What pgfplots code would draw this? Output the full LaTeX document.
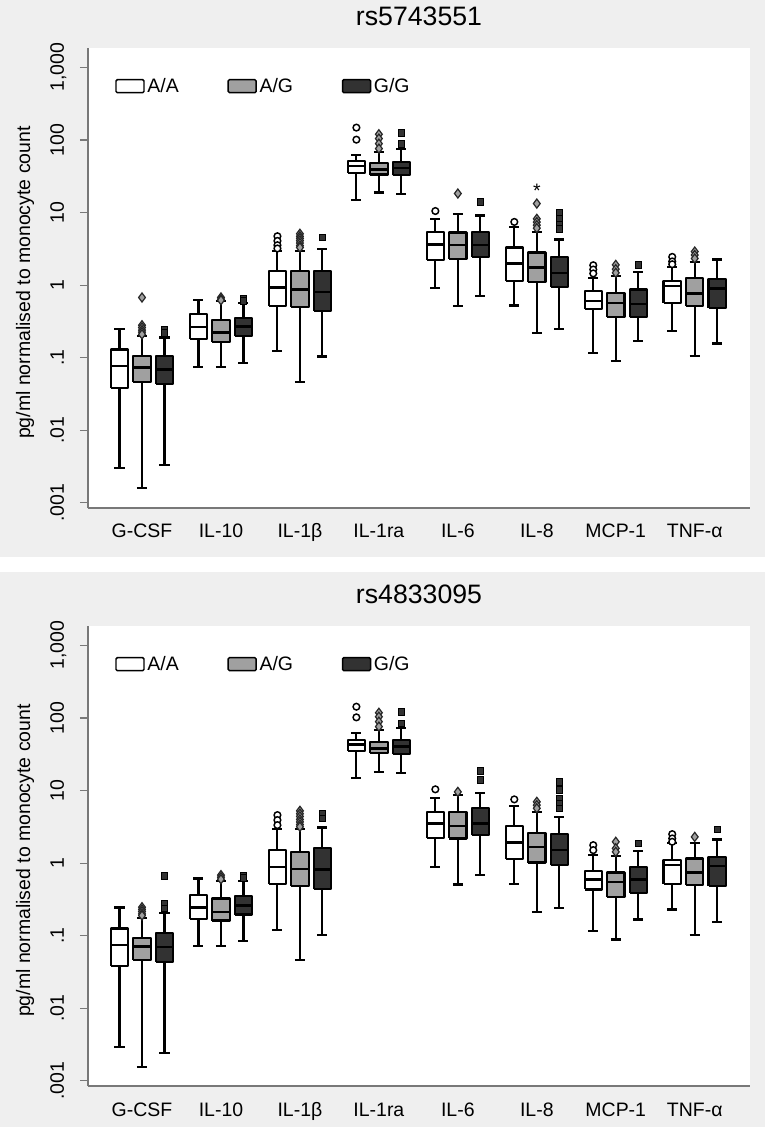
\documentclass[border=0pt]{standalone}
\usepackage{fontspec}
\setmainfont{Liberation Sans}
\usepackage{pgfplots}
\pgfplotsset{compat=1.18}
\definecolor{bg}{RGB}{239,239,239}
\definecolor{mid}{RGB}{160,160,160}
\definecolor{drk}{RGB}{50,50,50}
\definecolor{axc}{RGB}{120,120,120}
\newcommand{\fs}{\fontsize{14.6pt}{17pt}\selectfont}
\newcommand{\fst}{\fontsize{20pt}{24pt}\selectfont}
\pgfplotsset{
 mA/.style={mark=*, mark size=2.5pt, mark options={solid, fill=white, draw=black, line width=1.1pt}},
 mG/.style={mark=diamond*, mark size=3.4pt, mark options={solid, fill=mid, draw=black!85, line width=0.9pt}},
 mD/.style={mark=square*, mark size=2.5pt, mark options={solid, fill=drk, draw=black, line width=0.6pt}},
}
% #1 position, #2 fill, #3 lower whisker, #4 Q1, #5 median, #6 Q3, #7 upper whisker
\newcommand{\bx}[7]{%
 \pgfmathsetmacro\xa{#1-0.11}\pgfmathsetmacro\xb{#1+0.11}%
 \pgfmathsetmacro\ca{#1-0.0635}\pgfmathsetmacro\cb{#1+0.0635}%
 \addplot[forget plot, black, line width=1.6pt, unbounded coords=jump, mark=none]
   coordinates {(\ca,#3)(\cb,#3) (#1,nan) (#1,#3)(#1,#4) (#1,nan) (#1,#6)(#1,#7) (#1,nan) (\ca,#7)(\cb,#7)};
 \addplot[forget plot, draw=black, fill=#2, line width=1.6pt, line join=round, mark=none]
   coordinates {(\xa,#4)(\xb,#4)(\xb,#6)(\xa,#6)(\xa,#4)};
 \addplot[forget plot, black, line width=1.9pt, mark=none]
   coordinates {(\xa,#5)(\xb,#5)};
}
% outliers: #1 position, #2 marker style, #3 values
\newcommand{\ol}[3]{%
 \addplot[forget plot, only marks, #2] table[x expr=#1, y index=0, row sep=crcr, header=false] {#3};
}
\newcommand{\legimgs}{%
 \addlegendimage{legend image code/.code={\draw[fill=white,draw=black,line width=1.1pt,rounded corners=1pt] (0pt,-4.9pt) rectangle (21pt,4.9pt);}}
 \addlegendentry{A/A}
 \addlegendimage{legend image code/.code={\draw[fill=mid,draw=black,line width=1.1pt,rounded corners=1pt] (0pt,-4.9pt) rectangle (21pt,4.9pt);}}
 \addlegendentry{A/G}
 \addlegendimage{legend image code/.code={\draw[fill=drk,draw=black,line width=1.1pt,rounded corners=1pt] (0pt,-4.9pt) rectangle (21pt,4.9pt);}}
 \addlegendentry{G/G}
}
\begin{document}
\begin{tikzpicture}
\fill[white] (0,0) rectangle (573.75pt,-845.25pt);
\fill[bg] (0,0) rectangle (573.75pt,-417.75pt);
\fill[bg] (0,-429pt) rectangle (573.75pt,-845.25pt);

\begin{axis}[at={(66pt,-381pt)}, anchor=south west, title={rs5743551},
   scale only axis, width=496.5pt, height=345pt,
   ymode=log, ymin=8.5e-4, ymax=1850,
   xmin=-0.684, xmax=7.70,
   axis x line*=bottom, axis y line*=left,
   axis line style={draw=axc, line width=0.9pt, -},
   axis background/.style={fill=white},
   xtick={0,1,2,3,4,5,6,7},
   xticklabels={G-CSF,IL-10,IL-1β,IL-1ra,IL-6,IL-8,MCP-1,TNF-α},
   ytick={0.001,0.01,0.1,1,10,100,1000},
   yticklabels={.001,.01,.1,1,10,100,{1,000}},
   yminorticks=false, xminorticks=false,
   tick align=outside, major tick length=6pt,
   ytick style={draw=axc, line width=0.9pt},
   xtick style={draw=none},
   tick label style={font=\fs},
   xticklabel style={anchor=base, yshift=-16.5pt},
   yticklabel style={xshift=-12pt, rotate=90, anchor=base},
   ylabel={pg/ml normalised to monocyte count},
   ylabel style={font=\fs, at={(axis description cs:-0.0952,0.49)}, anchor=center},
   title style={font=\fst, at={(0.5,1)}, anchor=base, yshift=11.25pt},
   legend columns=3,
   legend style={draw=none, fill=none, font=\fs,
     at={(axis description cs:0.0408,0.917)}, anchor=west, inner sep=0pt,
     /tikz/every even column/.append style={column sep=34.5pt}},
   clip=false]
\legimgs
% G-CSF
\bx{-0.285}{white}{0.00303}{0.0386}{0.0768}{0.130}{0.25}
\bx{0}{mid}{0.00161}{0.0463}{0.0728}{0.105}{0.199}
\ol{0}{mG}{0.676\\0.28\\0.26\\0.24\\0.225\\0.21\\}
\bx{0.285}{drk}{0.00334}{0.0438}{0.069}{0.105}{0.19}
\ol{0.285}{mD}{0.24\\0.22\\}
% IL-10
\bx{0.715}{white}{0.0737}{0.182}{0.264}{0.399}{0.628}
\bx{1}{mid}{0.075}{0.166}{0.221}{0.333}{0.60}
\ol{1}{mG}{0.676\\0.64\\0.62\\}
\bx{1.285}{drk}{0.0853}{0.197}{0.27}{0.352}{0.56}
\ol{1.285}{mD}{0.656\\0.61\\}
% IL-1b
\bx{1.715}{white}{0.1235}{0.519}{0.93}{1.56}{2.97}
\ol{1.715}{mA}{4.72\\4.07\\3.55\\3.2\\}
\bx{2}{mid}{0.0463}{0.493}{0.87}{1.56}{2.97}
\ol{2}{mG}{5.1\\4.7\\4.4\\4.1\\3.8\\3.5\\3.3\\}
\bx{2.285}{drk}{0.104}{0.443}{0.80}{1.56}{3.16}
\ol{2.285}{mD}{4.53\\}
% IL-1ra
\bx{2.715}{white}{15.1}{35.5}{44.1}{50.9}{62.9}
\ol{2.715}{mA}{148\\101\\}
\bx{3}{mid}{18.9}{33.4}{39.5}{48.8}{68}
\ol{3}{mG}{120\\104.5\\89\\76\\}
\bx{3.285}{drk}{18.0}{32.6}{41.1}{49.8}{74.3}
\ol{3.285}{mD}{125\\89\\}
% IL-6
\bx{3.715}{white}{0.92}{2.21}{3.66}{5.41}{8.1}
\ol{3.715}{mA}{10.5\\}
\bx{4}{mid}{0.519}{2.28}{3.55}{5.31}{9.49}
\ol{4}{mG}{18.3\\}
\bx{4.285}{drk}{0.706}{2.45}{3.55}{5.41}{9.1}
\ol{4.285}{mD}{13.9\\}
% IL-8
\bx{4.715}{white}{0.525}{1.135}{1.99}{3.3}{6.34}
\ol{4.715}{mA}{7.43\\}
\bx{5}{mid}{0.22}{1.11}{1.75}{2.82}{5.41}
\ol{5}{mG}{13.3\\8.2\\7.4\\6.7\\6.1\\}
\bx{5.285}{drk}{0.246}{0.95}{1.48}{2.45}{4.25}
\ol{5.285}{mD}{10.0\\8.27\\6.9\\6.0\\}
% MCP-1
\bx{5.715}{white}{0.117}{0.463}{0.608}{0.827}{1.26}
\ol{5.715}{mA}{1.88\\1.64\\1.45\\}
\bx{6}{mid}{0.09}{0.359}{0.571}{0.785}{1.35}
\ol{6}{mG}{1.9\\1.66\\1.48\\}
\bx{6.285}{drk}{0.171}{0.359}{0.548}{0.872}{1.5}
\ol{6.285}{mD}{1.92\\}
% TNF-a
\bx{6.715}{white}{0.235}{0.571}{0.97}{1.135}{1.79}
\ol{6.715}{mA}{2.45\\2.12\\1.94\\}
\bx{7}{mid}{0.105}{0.514}{0.768}{1.25}{2.1}
\ol{7}{mG}{2.9\\2.6\\2.33\\}
\bx{7.285}{drk}{0.157}{0.483}{0.9}{1.21}{2.26}
\node[font=\fs] at (axis cs:5,19.7) {*};
\end{axis}

\begin{axis}[at={(66pt,-814.5pt)}, anchor=south west, title={rs4833095},
   scale only axis, width=496.5pt, height=345pt,
   ymode=log, ymin=8.5e-4, ymax=1850,
   xmin=-0.684, xmax=7.70,
   axis x line*=bottom, axis y line*=left,
   axis line style={draw=axc, line width=0.9pt, -},
   axis background/.style={fill=white},
   xtick={0,1,2,3,4,5,6,7},
   xticklabels={G-CSF,IL-10,IL-1β,IL-1ra,IL-6,IL-8,MCP-1,TNF-α},
   ytick={0.001,0.01,0.1,1,10,100,1000},
   yticklabels={.001,.01,.1,1,10,100,{1,000}},
   yminorticks=false, xminorticks=false,
   tick align=outside, major tick length=6pt,
   ytick style={draw=axc, line width=0.9pt},
   xtick style={draw=none},
   tick label style={font=\fs},
   xticklabel style={anchor=base, yshift=-16.5pt},
   yticklabel style={xshift=-12pt, rotate=90, anchor=base},
   ylabel={pg/ml normalised to monocyte count},
   ylabel style={font=\fs, at={(axis description cs:-0.0952,0.49)}, anchor=center},
   title style={font=\fst, at={(0.5,1)}, anchor=base, yshift=11.25pt},
   legend columns=3,
   legend style={draw=none, fill=none, font=\fs,
     at={(axis description cs:0.0408,0.917)}, anchor=west, inner sep=0pt,
     /tikz/every even column/.append style={column sep=34.5pt}},
   clip=false]
\legimgs
% G-CSF
\bx{-0.285}{white}{0.00292}{0.0383}{0.074}{0.126}{0.245}
\bx{0}{mid}{0.00155}{0.0459}{0.0716}{0.094}{0.175}
\ol{0}{mG}{0.247\\0.23\\0.215\\0.2\\0.19\\}
\bx{0.285}{drk}{0.00245}{0.0435}{0.07}{0.109}{0.206}
\ol{0.285}{mD}{0.662\\0.278\\0.237\\}
% IL-10
\bx{0.715}{white}{0.0716}{0.169}{0.245}{0.362}{0.615}
\bx{1}{mid}{0.0724}{0.162}{0.211}{0.326}{0.565}
\ol{1}{mG}{0.684\\0.64\\0.6\\}
\bx{1.285}{drk}{0.084}{0.196}{0.263}{0.351}{0.565}
\ol{1.285}{mD}{0.662\\0.62\\}
% IL-1b
\bx{1.715}{white}{0.119}{0.513}{0.889}{1.51}{2.92}
\ol{1.715}{mA}{4.59\\3.92\\3.34\\}
\bx{2}{mid}{0.0459}{0.486}{0.827}{1.43}{2.97}
\ol{2}{mG}{5.26\\4.8\\4.4\\4.0\\3.7\\3.4\\3.17\\}
\bx{2.285}{drk}{0.102}{0.438}{0.818}{1.6}{3.1}
\ol{2.285}{mD}{4.75\\4.14\\}
% IL-1ra
\bx{2.715}{white}{14.7}{35.1}{43.4}{49.7}{61.5}
\ol{2.715}{mA}{143\\102\\}
\bx{3}{mid}{18.2}{32.6}{38.2}{47.1}{68}
\ol{3}{mG}{118\\104\\89\\76\\}
\bx{3.285}{drk}{17.6}{31.9}{40.2}{49.7}{73.5}
\ol{3.285}{mD}{122\\84.5\\}
% IL-6
\bx{3.715}{white}{0.89}{2.23}{3.53}{5.1}{7.96}
\ol{3.715}{mA}{10.4\\}
\bx{4}{mid}{0.508}{2.19}{3.27}{5.1}{8.67}
\ol{4}{mG}{9.6\\}
\bx{4.285}{drk}{0.683}{2.43}{3.53}{5.68}{9.3}
\ol{4.285}{mD}{18.7\\14\\}
% IL-8
\bx{4.715}{white}{0.513}{1.14}{1.93}{3.24}{6.11}
\ol{4.715}{mA}{7.56\\}
\bx{5}{mid}{0.213}{1.02}{1.68}{2.62}{5.1}
\ol{5}{mG}{7.0\\6.3\\5.7\\}
\bx{5.285}{drk}{0.241}{0.94}{1.51}{2.49}{4.27}
\ol{5.285}{mD}{13.2\\10.2\\7.77\\6.64\\5.68\\}
% MCP-1
\bx{5.715}{white}{0.115}{0.434}{0.596}{0.783}{1.29}
\ol{5.715}{mA}{1.77\\1.51\\}
\bx{6}{mid}{0.0887}{0.343}{0.552}{0.744}{1.25}
\ol{6}{mG}{1.97\\1.6\\1.43\\}
\bx{6.285}{drk}{0.167}{0.389}{0.596}{0.889}{1.46}
\ol{6.285}{mD}{1.87\\}
% TNF-a
\bx{6.715}{white}{0.23}{0.513}{0.94}{1.12}{1.87}
\ol{6.715}{mA}{2.51\\2.19\\1.97\\}
\bx{7}{mid}{0.102}{0.497}{0.744}{1.16}{1.9}
\ol{7}{mG}{2.3\\}
\bx{7.285}{drk}{0.155}{0.482}{0.91}{1.2}{2.12}
\ol{7.285}{mD}{2.91\\}
\end{axis}
\pgfresetboundingbox
\path (0,0) rectangle (573.75pt,-845.25pt);
\end{tikzpicture}
\end{document}
